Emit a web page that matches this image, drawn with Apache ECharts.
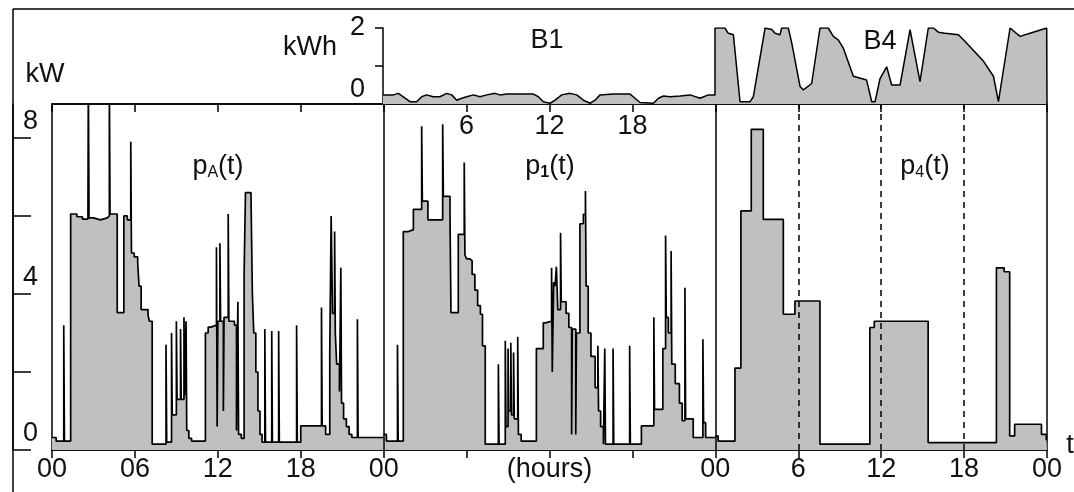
<!DOCTYPE html>
<html>
<head>
<meta charset="utf-8">
<script src="https://cdn.jsdelivr.net/npm/echarts@6/dist/echarts.min.js"></script>
<style>
html,body{margin:0;padding:0;background:#fff;}
#c{width:1074px;height:492px;}
</style>
</head>
<body>
<div id="c"></div>
<script>
// ---- tick labels ----
const mainTickHours = [0,6,12,18,24,30,36,42,48,54,60,66,72];
const mainTickLabels = ['00','06','12','18','00','','(hours)','','00','6','12','18','00'];
const topTickLabels  = ['','','','','','6','12','18','','','','',''];
const kwTicks = [0,2,4,6,8];
const kwLabelValues = [0,4,8];
const kwhTicks = [1,2];
const kwhLabelValues = [0,2];
const dashedHours = [54,60,66];
const panelBounds = [24,48];

// ---- series values: [hour, kW], value holds from that hour on ----
const pA = [
[0,0.32],[0.3,0.23],[0.85,3.2],[0.9,0.23],[1.35,6.05],[1.8,5.98],[2.2,5.92],[2.6,5.9],[2.63,9.5],[2.68,5.95],
[3.0,5.9],[3.5,5.95],[4.0,6.0],[4.15,9.5],[4.2,6.05],[4.72,3.52],[5.2,6.0],[5.45,5.9],[5.7,7.9],[5.75,5.05],
[5.95,4.95],[6.2,4.8],[6.3,4.2],[6.45,3.6],[6.95,3.45],[7.05,3.3],[7.25,0.15],[8.25,2.7],[8.3,0.2],[8.65,3.0],
[8.7,0.9],[9.0,3.3],[9.05,1.3],[9.3,3.1],[9.35,1.3],[9.55,3.4],[9.6,1.4],[9.7,3.3],[9.75,0.5],[9.9,0.3],
[10.1,0.23],[11.1,3.0],[11.3,3.15],[11.5,3.2],[11.9,5.2],[11.95,0.6],[12.0,3.3],[12.15,5.3],[12.2,3.3],[12.4,1.0],
[12.45,3.4],[12.75,6.05],[12.8,3.3],[13.2,3.2],[13.35,0.5],[13.45,3.8],[13.5,0.4],[13.7,0.3],[13.9,4.5],[14.0,6.6],
[14.4,6.5],[14.5,4.0],[14.6,3.0],[14.75,2.0],[14.9,1.0],[15.05,0.4],[15.2,0.2],[15.4,3.1],[15.45,0.2],[15.9,3.05],
[15.95,0.2],[16.4,3.05],[16.45,0.2],[17.7,3.2],[17.75,0.2],[18.0,0.62],[19.5,3.65],[19.55,0.62],[19.8,0.4],[20.1,2.5],
[20.2,6.0],[20.3,3.5],[20.45,5.6],[20.5,3.0],[20.6,2.2],[20.8,1.5],[20.9,4.67],[20.95,1.2],[21.1,0.8],[21.3,0.6],
[21.5,0.4],[21.7,0.32],[22.1,3.35],[22.15,0.32],[24,0.32]
];
const p1 = [
[0,0.4],[0.2,0.23],[1.0,2.7],[1.05,0.23],[1.42,5.6],[1.8,5.65],[2.15,6.17],[2.75,8.3],[2.8,6.38],[3.2,5.9],
[4.27,8.35],[4.32,6.5],[4.8,6.0],[4.87,3.52],[5.4,5.53],[5.83,7.37],[5.88,5.0],[6.0,4.9],[6.25,4.85],[6.4,4.5],
[6.6,4.1],[6.8,3.7],[7.0,3.48],[7.15,2.67],[7.35,0.15],[8.3,2.2],[8.35,0.15],[8.8,2.8],[8.85,0.6],[9.0,2.6],
[9.05,1.0],[9.2,2.75],[9.25,0.9],[9.4,2.5],[9.45,0.8],[9.7,2.9],[9.75,0.4],[9.95,0.23],[11.05,2.6],[11.55,3.26],
[11.7,3.3],[12.15,4.67],[12.2,2.0],[12.3,4.3],[12.4,4.2],[12.5,4.7],[12.6,3.6],[12.8,5.57],[12.85,3.8],[13.2,3.5],
[13.4,3.14],[13.6,0.4],[13.65,3.1],[13.9,0.4],[13.95,3.0],[14.2,5.8],[14.45,6.04],[14.6,6.64],[14.65,4.2],[14.8,3.0],
[15.0,2.4],[15.3,1.6],[15.5,2.67],[15.55,1.0],[15.7,0.6],[15.9,0.15],[16.0,2.6],[16.05,0.15],[16.6,2.6],[16.65,0.15],
[17.8,2.67],[17.85,0.15],[18.65,0.62],[19.55,3.4],[19.6,1.04],[20.2,2.6],[20.4,5.5],[20.45,3.4],[20.6,3.0],[20.8,5.1],
[20.85,2.2],[21.1,1.7],[21.4,1.2],[21.6,0.75],[21.8,4.16],[21.85,0.8],[22.4,0.32],[23.1,2.84],[23.15,0.7],[23.3,0.32],
[24,0.32]
];
const p4 = [
[0,0.36],[0.2,0.23],[1.42,2.1],[1.85,6.13],[2.6,8.22],[3.47,5.91],[4.92,3.48],[5.76,3.82],[7.57,0.15],[11.18,3.14],
[11.5,3.3],[15.4,0.19],[20.34,4.67],[20.9,4.57],[21.3,0.36],[21.66,0.66],[23.6,0.4],[23.95,0.25],[24,0.25]
];
// ---- energy, kWh: [hour, kWh] ----
const B1 = [
[0,0.24],[0.75,0.24],[1.11,0.28],[1.47,0.19],[1.95,0.06],[2.43,0.06],[2.8,0.19],[3.15,0.24],[3.64,0.19],[4.12,0.19],
[4.6,0.28],[4.97,0.24],[5.33,0.1],[5.69,0.15],[6.05,0.19],[6.53,0.24],[7.01,0.19],[7.5,0.24],[8.1,0.28],[8.46,0.24],
[8.94,0.26],[9.9,0.26],[10.87,0.26],[11.23,0.19],[11.59,0.06],[12.08,0.02],[12.44,0.1],[12.92,0.24],[13.52,0.28],[14.0,0.24],
[14.49,0.1],[14.97,0.02],[15.33,0.1],[15.69,0.24],[16.66,0.26],[17.86,0.26],[18.22,0.15],[18.58,0.04],[19.55,0.02],[19.91,0.15],
[20.27,0.21],[20.76,0.19],[21.48,0.21],[22.2,0.24],[22.92,0.15],[23.52,0.24],[24,0.24]
];
const B4 = [
[0,2.0],[0.72,2.0],[0.96,1.86],[1.33,1.82],[1.81,0.06],[2.53,0.06],[2.77,0.19],[3.62,2.0],[4.1,1.96],[4.34,1.86],
[4.7,1.82],[4.82,2.0],[5.3,2.0],[5.55,1.6],[6.15,0.46],[6.39,0.37],[6.99,0.54],[7.59,2.0],[8.19,2.0],[8.55,1.78],
[8.91,1.69],[9.28,1.47],[10.0,0.73],[10.96,0.63],[11.33,0.06],[11.57,0.06],[11.93,0.67],[12.41,0.98],[12.77,0.5],[13.38,0.5],
[14.1,1.96],[14.82,0.59],[15.42,2.0],[15.79,2.0],[16.15,1.89],[16.63,1.86],[17.6,1.82],[17.96,1.69],[19.4,1.13],[20.13,0.73],
[20.49,0.06],[21.33,2.0],[22.05,1.78],[23.0,1.89],[23.98,2.0],[24,0]
];

const FONT = "'Liberation Sans', Arial, sans-serif";
const FILL = '#c0c0c0';
const INK = '#111';

function shift(arr, off){ return arr.map(function(d){ return [d[0] + off, d[1]]; }); }

const lineSeries = function(data, extra){
  return Object.assign({
    type: 'line', xAxisIndex: 0, yAxisIndex: 0, data: data, step: 'end',
    showSymbol: false, symbol: 'none', clip: true, silent: true,
    lineStyle: {color: '#000', width: 1.7},
    areaStyle: {color: FILL, opacity: 1, origin: 'start'}
  }, extra || {});
};

const chart = echarts.init(document.getElementById('c'), null, {renderer: 'canvas'});
const option = {
  animation: false,
  backgroundColor: '#fff',
  grid: [
    {left: 52, right: 27, top: 104, bottom: 42, show: true, borderColor: '#000', borderWidth: 1.5, backgroundColor: 'transparent', outerBoundsMode: 'none', containLabel: false},
    {left: 383, right: 27, top: 28, height: 76, show: false, outerBoundsMode: 'none', containLabel: false}
  ],
  xAxis: [
    {type: 'value', gridIndex: 0, min: 0, max: 72, interval: 6, position: 'bottom',
     axisLine: {show: true, onZero: false, lineStyle: {color: '#000', width: 1.5}},
     axisTick: {show: true, inside: false, length: 8, lineStyle: {color: '#000', width: 1.5}},
     axisLabel: {show: true, margin: 6, fontSize: 27, fontFamily: FONT, color: INK, showMinLabel: true, showMaxLabel: true,
       formatter: function(v){ const i = mainTickHours.indexOf(v); return i < 0 ? '' : mainTickLabels[i]; }},
     splitLine: {show: false}},
    {type: 'value', gridIndex: 0, min: 0, max: 72, interval: 6, position: 'top',
     axisLine: {show: true, onZero: false, lineStyle: {color: '#000', width: 1.5}},
     axisTick: {show: true, inside: true, length: 8, lineStyle: {color: '#000', width: 1.5}},
     axisLabel: {show: true, inside: true, margin: 9, fontSize: 27, fontFamily: FONT, color: INK,
       formatter: function(v){ const i = mainTickHours.indexOf(v); return i < 0 ? '' : topTickLabels[i]; }},
     splitLine: {show: false}},
    {type: 'value', gridIndex: 1, min: 0, max: 48, show: false}
  ],
  yAxis: [
    {type: 'value', gridIndex: 0, min: 0, max: 8.87, position: 'left', offset: 39,
     axisLine: {show: true, onZero: false, lineStyle: {color: '#000', width: 1.5}},
     axisTick: {show: true, inside: true, length: 18, customValues: kwTicks, lineStyle: {color: '#000', width: 1.5}},
     axisLabel: {show: true, inside: true, margin: 10, customValues: kwLabelValues, fontSize: 27, fontFamily: FONT, color: INK,
       formatter: function(v){ return '{a|' + v + '}'; },
       rich: {a: {fontSize: 27, fontFamily: FONT, color: INK, padding: [0, 0, 32, 0]}}},
     splitLine: {show: false}},
    {type: 'value', gridIndex: 1, min: 0, max: 2, position: 'left',
     axisLine: {show: true, onZero: false, lineStyle: {color: '#000', width: 1.5}},
     axisTick: {show: true, inside: false, length: 8, customValues: kwhTicks, lineStyle: {color: '#000', width: 1.5}},
     axisLabel: {show: true, margin: 18, customValues: kwhLabelValues, fontSize: 27, fontFamily: FONT, color: INK,
       formatter: function(v){ return v === 0 ? '{z|0}' : '{t|' + v + '}'; },
       rich: {z: {fontSize: 27, fontFamily: FONT, color: INK, padding: [0, 0, 28, 0]},
              t: {fontSize: 27, fontFamily: FONT, color: INK}}},
     splitLine: {show: false}}
  ],
  series: [
    lineSeries(shift(pA, 0)),
    lineSeries(shift(p1, 24)),
    lineSeries(shift(p4, 48), {
      markLine: {silent: true, symbol: 'none', label: {show: false}, animation: false,
        data: dashedHours.map(function(h){ return {xAxis: h, lineStyle: {type: [6, 5], color: '#000', width: 1.5}}; })
          .concat(panelBounds.map(function(h){ return {xAxis: h, lineStyle: {type: 'solid', color: '#000', width: 1.5}}; }))}
    }),
    {type: 'line', xAxisIndex: 2, yAxisIndex: 1, data: shift(B1, 0).concat(shift(B4, 24)),
     showSymbol: false, symbol: 'none', silent: true, clip: true,
     lineStyle: {color: '#000', width: 1.5},
     areaStyle: {color: FILL, opacity: 1, origin: 'start'}}
  ],
  graphic: [
    {type: 'line', shape: {x1: 13, y1: 9, x2: 1074, y2: 9}, style: {stroke: '#000', lineWidth: 1.5}, silent: true, z: 100},
    {type: 'line', shape: {x1: 13, y1: 9, x2: 13, y2: 492}, style: {stroke: '#000', lineWidth: 1.5}, silent: true, z: 100},
    {type: 'text', x: 45, y: 75, style: {text: 'kW', font: '27px ' + FONT, fill: INK, align: 'center', verticalAlign: 'middle'}, z: 100},
    {type: 'text', x: 310, y: 48, style: {text: 'kWh', font: '27px ' + FONT, fill: INK, align: 'center', verticalAlign: 'middle'}, z: 100},
    {type: 'text', x: 547, y: 41, style: {text: 'B1', font: '27px ' + FONT, fill: INK, align: 'center', verticalAlign: 'middle'}, z: 100},
    {type: 'text', x: 880, y: 42, style: {text: 'B4', font: '27px ' + FONT, fill: INK, align: 'center', verticalAlign: 'middle'}, z: 100},
    {type: 'text', x: 1070, y: 446, style: {text: 't', font: '27px ' + FONT, fill: INK, align: 'center', verticalAlign: 'middle'}, z: 100},
    {type: 'text', x: 218, y: 167, z: 100, style: {text: '{p|p}{s|A}{p|(t)}', align: 'center', verticalAlign: 'middle',
      rich: {p: {fontSize: 27, fontFamily: FONT, fill: INK, color: INK}, s: {fontSize: 16, fontFamily: FONT, fill: INK, color: INK, padding: [12, 0, 0, 0]}}}},
    {type: 'text', x: 550, y: 167, z: 100, style: {text: '{p|p}{s|1}{p|(t)}', align: 'center', verticalAlign: 'middle',
      rich: {p: {fontSize: 27, fontFamily: FONT, fill: INK, color: INK}, s: {fontSize: 16, fontWeight: 'bold', fontFamily: FONT, fill: INK, color: INK, padding: [12, 0, 0, 0]}}}},
    {type: 'text', x: 925, y: 167, z: 100, style: {text: '{p|p}{s|4}{p|(t)}', align: 'center', verticalAlign: 'middle',
      rich: {p: {fontSize: 27, fontFamily: FONT, fill: INK, color: INK}, s: {fontSize: 16, fontFamily: FONT, fill: INK, color: INK, padding: [12, 0, 0, 0]}}}}
  ]
};
chart.setOption(option);
</script>
</body>
</html>
